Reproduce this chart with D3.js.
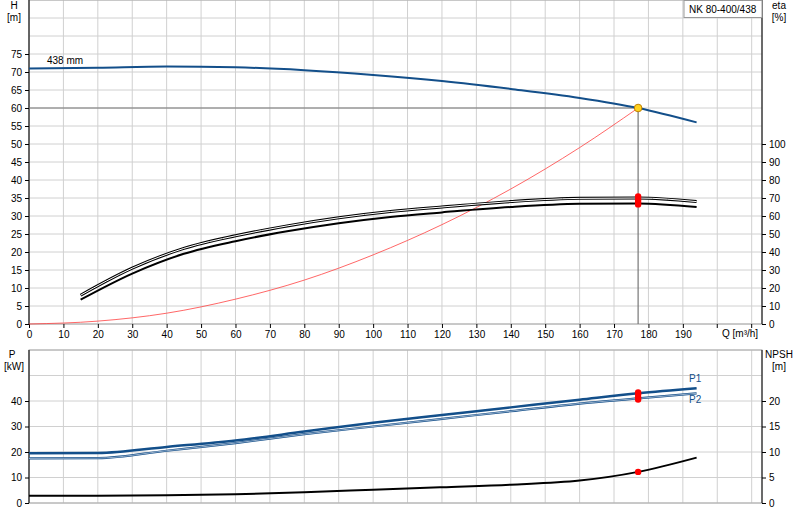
<!DOCTYPE html><html><head><meta charset="utf-8"><script src="https://cdn.jsdelivr.net/npm/d3@7"></script>
<style>body{margin:0;background:#fff}text{font-family:"Liberation Sans",Arial,sans-serif;font-size:10px;fill:#000}</style></head><body>
<svg id="c" width="800" height="520"></svg>
<script>
const qTicks=[0,10,20,30,40,50,60,70,80,90,100,110,120,130,140,150,160,170,180,190];
const hTicks=[0,5,10,15,20,25,30,35,40,45,50,55,60,65,70,75];
const etaTicks=[0,10,20,30,40,50,60,70,80,90,100];
const pTicks=[0,10,20,30,40];
const npshTicks=[0,5,10,15,20];
const headQ=[0,20,40,60,80,100,120,140,160,177,194];
const headH=[71,71.2,71.5,71.3,70.5,69.2,67.5,65.3,62.8,60,56];
const etaQ=[15,30,45,60,75,90,105,120,140,160,177,194];
const eta1=[16,31,42,49,54.5,59,62.5,65,68,69.8,70,68];
const eta2=[13.5,28,39,46,51.5,56,59.5,62,65,66.8,67,65];
const sysQ=[0,20,40,60,80,100,120,140,160,177];
const sysH=[0,0.8,3,6.9,12.2,19.2,27.6,37.5,49,60];
const pQ=[0,20,40,60,80,100,120,140,160,177,194];
const p1=[19.5,19.6,22,24.5,28,31.5,34.5,37.5,40.5,43,45];
const p2=[17.5,17.6,20.5,23.5,27,30,33,36,39,41,43];
const npQ=[0,20,40,60,80,100,120,140,160,177,194];
const npsh=[1.4,1.4,1.5,1.7,2.1,2.6,3.1,3.6,4.4,6.1,8.9];
const dutyQ=177, dutyH=60;

const svg=d3.select("#c");
const L=29,R=762;
const x=d3.scaleLinear().domain([0,213]).range([L,R]);
const yH=d3.scaleLinear().domain([0,90]).range([324,0]);
const yE=d3.scaleLinear().domain([0,100]).range([324,144]);
const yP=d3.scaleLinear().domain([0,60]).range([503,350]);
const yN=d3.scaleLinear().domain([0,30]).range([503,350]);
const grid="#d0d0d0";
function gridV(y0,y1){d3.range(0,214,10).forEach(q=>svg.append("line").attr("x1",x(q)).attr("x2",x(q)).attr("y1",y0).attr("y2",y1).attr("stroke",grid));}
function gridH(vals,sc){vals.forEach(v=>svg.append("line").attr("x1",L).attr("x2",R).attr("y1",sc(v)).attr("y2",sc(v)).attr("stroke",grid));}
gridV(0,324);gridH(d3.range(0,91,5),yH);
gridV(350,503);gridH(d3.range(0,61,10),yP);
svg.append("rect").attr("x",L).attr("y",0).attr("width",R-L).attr("height",324).attr("fill","none").attr("stroke","#aaa");
svg.append("rect").attr("x",L).attr("y",350).attr("width",R-L).attr("height",153).attr("fill","none").attr("stroke","#aaa");
svg.append("g").attr("transform",`translate(${L},0)`).call(d3.axisLeft(yH).tickValues(hTicks).tickSize(4).tickSizeOuter(0)).call(g=>g.select(".domain").attr("d",`M0,0V324`));
svg.append("g").attr("transform",`translate(${R},0)`).call(d3.axisRight(yE).tickValues(etaTicks).tickSize(4).tickSizeOuter(0)).call(g=>g.select(".domain").attr("d",`M0,0V324`));
svg.append("g").attr("transform",`translate(0,324)`).call(d3.axisBottom(x).tickValues(qTicks).tickSize(4).tickSizeOuter(0)).call(g=>g.select(".domain").remove());
svg.append("g").attr("transform",`translate(${L},0)`).call(d3.axisLeft(yP).tickValues(pTicks).tickSize(4).tickSizeOuter(0)).call(g=>g.select(".domain").attr("d",`M0,350V503`));
svg.append("g").attr("transform",`translate(${R},0)`).call(d3.axisRight(yN).tickValues(npshTicks).tickSize(4).tickSizeOuter(0)).call(g=>g.select(".domain").attr("d",`M0,350V503`));
[200,210].forEach(q=>svg.append("line").attr("x1",x(q)).attr("x2",x(q)).attr("y1",324).attr("y2",328).attr("stroke","#000"));
svg.selectAll(".tick text").style("font-family","Liberation Sans, Arial, sans-serif").style("font-size","10px");
svg.append("text").attr("x",722).attr("y",337).text("Q [m³/h]");
svg.append("text").attr("x",14).attr("y",9).attr("text-anchor","middle").text("H");
svg.append("text").attr("x",14).attr("y",21).attr("text-anchor","middle").text("[m]");
svg.append("text").attr("x",779).attr("y",9).attr("text-anchor","middle").text("eta");
svg.append("text").attr("x",779).attr("y",21).attr("text-anchor","middle").text("[%]");
svg.append("text").attr("x",12).attr("y",358).attr("text-anchor","middle").text("P");
svg.append("text").attr("x",14).attr("y",370).attr("text-anchor","middle").text("[kW]");
svg.append("text").attr("x",779).attr("y",358).attr("text-anchor","middle").text("NPSH");
svg.append("text").attr("x",779).attr("y",370).attr("text-anchor","middle").text("[m]");
svg.append("rect").attr("x",684).attr("y",0.5).attr("width",78).attr("height",17).attr("fill","#fff").attr("stroke","#999");
svg.append("text").attr("x",689).attr("y",13).text("NK 80-400/438");
svg.append("line").attr("x1",L).attr("x2",x(dutyQ)).attr("y1",yH(dutyH)).attr("y2",yH(dutyH)).attr("stroke","#777").attr("stroke-width",1.2);
svg.append("line").attr("x1",x(dutyQ)).attr("x2",x(dutyQ)).attr("y1",yH(dutyH)).attr("y2",324).attr("stroke","#777").attr("stroke-width",1.2);
const line=(xs,ys,sy)=>d3.line().curve(d3.curveMonotoneX)(xs.map((q,i)=>[x(q),sy(ys[i])]));
function path(xs,ys,sy,col,w){svg.append("path").attr("d",line(xs,ys,sy)).attr("fill","none").attr("stroke",col).attr("stroke-width",w);}
path(sysQ,sysH,yH,"#ff4040",0.8);
path(headQ,headH,yH,"#134f8a",2);
svg.append("text").attr("x",47).attr("y",64).text("438 mm");
path(etaQ,eta1,yE,"#000",3);path(etaQ,eta1,yE,"#fff",1);
path(etaQ,eta2,yE,"#000",2);
path(pQ,p1,yP,"#134f8a",2.5);
path(pQ,p2,yP,"#134f8a",2.2);path(pQ,p2,yP,"#cfd9e6",0.7);
path(npQ,npsh,yN,"#000",2);
svg.append("text").attr("x",689).attr("y",382).style("fill","#134f8a").text("P1");
svg.append("text").attr("x",689).attr("y",403).style("fill","#134f8a").text("P2");
const dot=(cx,cy)=>svg.append("circle").attr("cx",cx).attr("cy",cy).attr("r",3.2).attr("fill","red");
const iq=etaQ.indexOf(dutyQ);
dot(x(dutyQ),yE(eta1[iq])-1.5);dot(x(dutyQ),yE(eta1[iq])+1.5);
dot(x(dutyQ),yE(eta2[iq])-1.5);dot(x(dutyQ),yE(eta2[iq])+1);
const ip=pQ.indexOf(dutyQ);
dot(x(dutyQ),yP(p1[ip])-1);dot(x(dutyQ),yP(p1[ip])+1);
dot(x(dutyQ),yP(p2[ip])-1);dot(x(dutyQ),yP(p2[ip])+1);
dot(x(dutyQ),yN(npsh[npQ.indexOf(dutyQ)]));
svg.append("circle").attr("cx",x(dutyQ)).attr("cy",yH(dutyH)).attr("r",3.8).attr("fill","#ffd21f").attr("stroke","#c08000");
</script></body></html>
